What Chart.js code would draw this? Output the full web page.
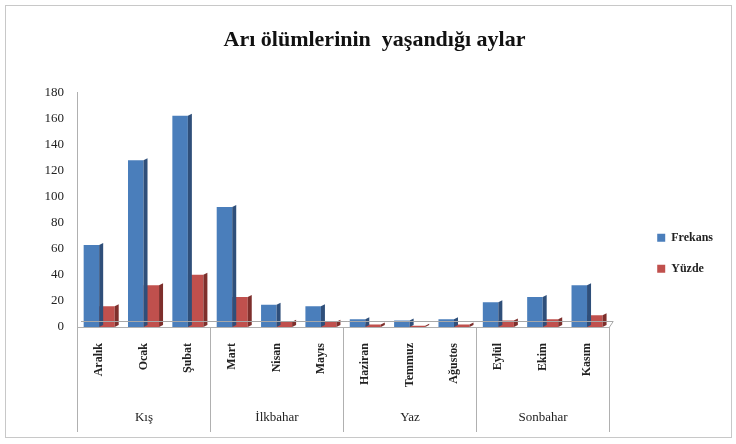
<!DOCTYPE html>
<html>
<head>
<meta charset="utf-8">
<script src="https://cdn.jsdelivr.net/npm/chart.js@4"></script>
<style>
  html, body { margin: 0; padding: 0; background: #fff; }
  #wrap { position: relative; width: 736px; height: 444px; }
  #frame { position: absolute; left: 5px; top: 5px; width: 725px; height: 431px; border: 1px solid #c8c8c8; pointer-events: none; }
</style>
</head>
<body>
<div id="wrap">
  <canvas id="chart" width="736" height="444"></canvas>
  <div id="frame"></div>
</div>
<script>
const months = ['Aralık', 'Ocak', 'Şubat', 'Mart', 'Nisan', 'Mayıs', 'Haziran', 'Temmuz', 'Ağustos', 'Eylül', 'Ekim', 'Kasım'];
const seasons = ['Kış', 'İlkbahar', 'Yaz', 'Sonbahar'];
const seasonSizes = [3, 3, 3, 3];
const frekans = [63, 128, 162, 92, 17, 16, 6, 5, 6, 19, 23, 32];
const yuzde = [16, 32, 40, 23, 4, 4, 2, 1, 2, 5, 6, 9];

const serif = '"Liberation Serif", "Times New Roman", serif';
Chart.defaults.font.family = serif;
Chart.defaults.color = '#222';

// fake 3d side face on each bar, from the bar element itself
const sideFace = {
  id: 'sideFace',
  afterDatasetsDraw(chart) {
    const { ctx } = chart;
    const depth = 4;
    const shades = ['#2f4f7a', '#7e2f2c'];
    chart.data.datasets.forEach((ds, i) => {
      chart.getDatasetMeta(i).data.forEach((bar) => {
        const right = bar.x + bar.width / 2;
        ctx.save();
        ctx.fillStyle = shades[i];
        ctx.beginPath();
        ctx.moveTo(right, bar.y);
        ctx.lineTo(right + depth, bar.y - 2);
        ctx.lineTo(right + depth, bar.base - 2);
        ctx.lineTo(right, bar.base);
        ctx.closePath();
        ctx.fill();
        ctx.restore();
      });
    });
  }
};

// season row under the month labels
const seasonRow = {
  id: 'seasonRow',
  afterDraw(chart) {
    const { ctx } = chart;
    const x = chart.scales.x;
    const step = x.getPixelForValue(1) - x.getPixelForValue(0);
    const top = chart.chartArea.bottom;
    const bottom = 432;
    ctx.save();
    ctx.strokeStyle = '#b0b0b0';
    ctx.lineWidth = 1;
    ctx.fillStyle = '#222';
    ctx.font = '13px ' + serif;
    ctx.textAlign = 'center';
    ctx.textBaseline = 'middle';
    let start = 0;
    const edge = (idx) => Math.round(x.getPixelForValue(idx) - step / 2) + 0.5;
    ctx.beginPath();
    ctx.moveTo(edge(0), top);
    ctx.lineTo(edge(0), bottom);
    seasons.forEach((name, i) => {
      const end = start + seasonSizes[i];
      ctx.moveTo(edge(end), top);
      ctx.lineTo(edge(end), bottom);
      ctx.fillText(name, (edge(start) + edge(end)) / 2, 418);
      start = end;
    });
    ctx.stroke();
    // floor line
    ctx.strokeStyle = '#a8a8a8';
    ctx.beginPath();
    ctx.moveTo(chart.chartArea.left + 4, top - 5.5);
    ctx.lineTo(chart.chartArea.right + 4, top - 5.5);
    ctx.lineTo(chart.chartArea.right, top + 0.5);
    ctx.stroke();
    ctx.restore();
  }
};

new Chart(document.getElementById('chart'), {
  type: 'bar',
  data: {
    labels: months,
    datasets: [
      { label: 'Frekans', data: frekans, backgroundColor: '#4a7ebb' },
      { label: 'Yüzde', data: yuzde, backgroundColor: '#c0504d' }
    ]
  },
  options: {
    responsive: false,
    animation: false,
    layout: { padding: { left: 26, right: 13, top: 0, bottom: 0 } },
    datasets: { bar: { categoryPercentage: 0.7, barPercentage: 1.0 } },
    scales: {
      x: {
        grid: { display: false },
        border: { color: '#b0b0b0' },
        ticks: {
          minRotation: 90,
          maxRotation: 90,
          padding: 8,
          font: { size: 12, weight: 'bold' },
          color: '#222'
        },
        afterFit: (scale) => { scale.height = 117; }
      },
      y: {
        min: 0,
        max: 180,
        grid: { display: false },
        border: { color: '#b0b0b0' },
        ticks: {
          stepSize: 20,
          padding: 5,
          font: { size: 13 },
          color: '#222'
        },
        afterFit: (scale) => { scale.width = 51; }
      },
      // empty spacer between the plot and the legend
      gap: {
        position: 'right',
        grid: { display: false },
        border: { display: false },
        ticks: { display: false },
        afterFit: (scale) => { scale.width = 29; }
      }
    },
    plugins: {
      title: {
        display: true,
        text: 'Arı ölümlerinin  yaşandığı aylar',
        font: { size: 22, weight: 'bold', family: serif },
        color: '#111',
        padding: { top: 27, bottom: 39 }
      },
      legend: {
        position: 'right',
        title: { display: true, text: '', font: { size: 12 }, padding: { top: 0, bottom: 48 } },
        labels: {
          boxWidth: 8,
          boxHeight: 8,
          padding: 19,
          font: { size: 12, weight: 'bold' },
          color: '#222'
        }
      },
      tooltip: { enabled: false }
    }
  },
  plugins: [sideFace, seasonRow]
});
</script>
</body>
</html>
